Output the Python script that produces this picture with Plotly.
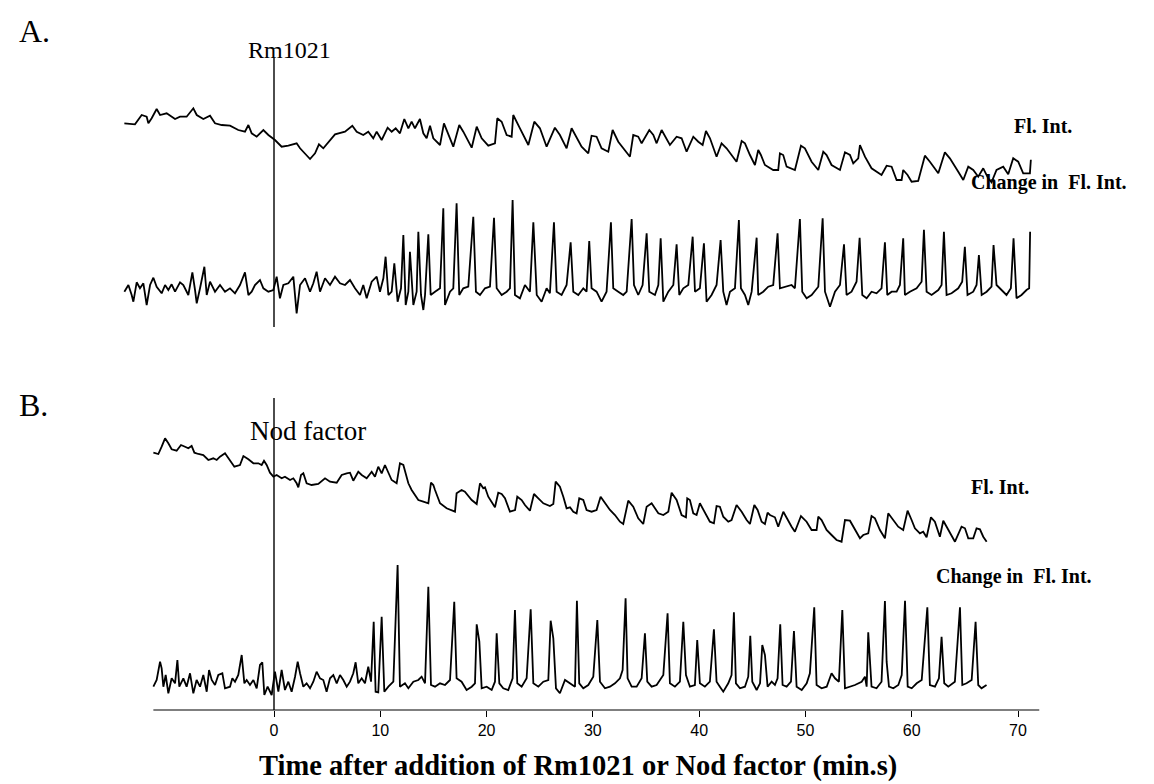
import plotly.graph_objects as go

# ---------------- data (time in min, intensity in arbitrary units) ----------------
a_fl_t = [-14.08,-13.08,-12.45,-11.98,-11.82,-11.51,-11.04,-10.72,-10.10,-9.78,-9.31,-8.84,-8.22,-7.59,-7.27,-6.65,-6.02,-5.55,-4.92,-4.14,-3.36,-2.73,-2.41,-2.10,-1.63,-1.00,-0.53,0.09,0.72,1.35,2.13,2.45,3.39,3.86,4.23,4.64,5.74,6.68,7.37,7.78,8.40,8.87,9.34,9.66,10.13,10.69,11.07,11.45,11.85,12.26,12.64,12.95,13.26,13.73,14.05,14.36,14.68,14.99,15.62,15.99,16.40,16.87,17.43,17.81,18.60,19.07,19.54,20.16,20.79,21.01,21.42,21.89,22.36,22.51,23.14,23.93,24.49,25.02,25.65,26.43,26.90,27.53,28.00,28.47,28.94,29.57,29.88,30.35,30.82,31.45,31.86,32.39,33.49,33.80,34.27,34.59,35.31,35.69,36.00,36.47,36.94,37.25,37.88,38.35,38.82,39.45,39.92,40.33,40.64,41.02,41.64,42.11,42.58,43.05,43.52,44.00,44.31,44.78,45.25,45.56,45.81,46.19,46.97,47.44,47.60,47.91,48.23,49.01,49.58,49.95,50.58,51.21,51.68,51.99,52.46,53.25,53.72,54.19,54.50,54.97,55.13,55.60,56.22,57.16,57.64,58.11,58.58,59.05,59.20,59.61,59.99,60.61,61.24,61.71,62.50,63.12,63.59,64.38,64.85,65.32,65.79,66.26,66.73,67.20,67.51,67.98,68.61,69.08,69.55,70.02,70.49,71.12,71.21]
a_fl_v = [66.7,65.7,75,73.3,66.7,71.7,81,75,76.7,74.3,71,73.3,73.3,81.7,75,71,74.3,66.7,65,64.3,60,58.3,65,56.7,53.3,60,55,50,43.3,44.3,46.7,41.7,31,36.7,45.7,41.7,55.7,58.3,64.3,58.3,55,58.3,51.7,58.3,50,62.3,58.3,61.7,56.7,71,61.7,68.3,61.7,71,56.7,51.7,64.3,51.7,45,66.7,55,43.3,65,58.3,42.3,63.3,51.7,44.3,46.7,71.7,68.3,55,53.3,75,61.7,45,68.3,61.7,43.3,62.3,55,41.7,61.7,51.7,43.3,36.7,54.3,53.3,41.7,38.3,60,48.3,33.3,55,53.3,46.7,60,55,46.7,60,51.7,45,53.3,51.7,38.3,53.3,48.3,45,59,51.7,33.3,46.7,41.7,35,28.3,49,46.7,35,25,40,35,25,20,20,36.7,35,23.3,20,44.3,41.7,28.3,20,38.3,35,25,20,37.7,35,26.7,31.7,45,33.3,21.7,15,24.3,23.3,10,10,20,15,8.3,9,34.3,28.3,16.7,37.7,31.7,18.3,10,23.3,20,13.3,21.7,11.7,7.7,20,23.3,15.7,31.7,28.3,16.7,16.7,30.3]

a_ch_t = [-14.08,-13.70,-13.39,-13.23,-12.92,-12.61,-12.29,-11.98,-11.66,-11.35,-11.04,-10.57,-10.25,-9.94,-9.63,-9.31,-8.84,-8.53,-8.06,-7.68,-7.43,-7.27,-6.96,-6.55,-6.33,-6.02,-5.55,-5.08,-4.61,-4.14,-3.67,-3.20,-2.73,-2.41,-2.10,-1.79,-1.32,-1.00,-0.53,-0.06,0.25,0.56,0.88,1.35,1.82,2.13,2.45,2.92,3.39,3.70,4.01,4.33,4.80,5.27,5.74,6.21,6.68,7.15,7.62,8.09,8.40,8.72,9.19,9.66,9.97,10.29,10.50,10.76,11.07,11.32,11.63,11.95,12.17,12.39,12.64,12.79,13.11,13.42,13.58,13.83,14.05,14.21,14.52,14.74,15.15,15.62,15.93,16.09,16.56,16.87,17.18,17.43,17.81,18.28,18.75,19.00,19.38,19.85,20.32,20.70,20.95,21.42,21.89,22.20,22.45,22.67,23.14,23.61,24.08,24.40,24.72,25.18,25.65,25.96,26.34,26.59,27.06,27.53,27.91,28.16,28.63,29.10,29.41,29.66,29.88,30.35,30.82,31.29,31.70,31.92,32.39,32.86,33.18,33.65,33.87,34.27,34.68,35.06,35.31,35.84,36.16,36.38,36.63,37.10,37.57,37.88,38.13,38.51,38.98,39.39,39.61,40.07,40.45,40.70,41.17,41.64,42.02,42.27,42.58,42.90,43.37,43.74,43.93,44.31,44.62,44.94,45.41,45.56,46.03,46.50,46.97,47.38,47.60,48.07,48.70,49.01,49.48,49.70,50.11,50.58,51.21,51.62,51.84,52.31,52.78,53.25,53.63,53.87,54.34,54.81,55.10,55.35,55.76,56.22,56.69,57.16,57.48,57.70,58.11,58.58,58.89,59.20,59.36,59.83,60.46,60.93,61.15,61.40,61.87,62.50,62.81,63.03,63.28,63.75,64.38,64.75,65.00,65.25,65.79,66.10,66.32,66.58,67.05,67.51,67.70,67.98,68.45,68.92,69.33,69.58,69.86,70.33,70.80,71.05,71.14]
a_ch_v = [8.3,15,5,-1.7,17.7,11.7,16.7,-5,15,22.3,13.3,6.7,15,10,15.7,8.3,17.7,15,5,27.7,10,-3.3,11.7,33.3,5,18.3,8.3,15,8.3,11.7,6.7,15,27.7,5,8.3,15,20,11.7,8.3,10,23.3,1.7,15,16.7,23.3,-13.3,15,21.7,8.3,16.7,28.3,8.3,21.7,15,23.3,16.7,15,20,11.7,5,15,1.7,18.3,23.3,8.3,21.7,43.3,5,8.3,36.7,-1.7,11.7,65,-5,8.3,48.3,-5,8.3,68.3,5,-10,5,65.7,5,8.3,11.7,91.7,-5,8.3,11.7,96.7,5,11.7,13.3,83.3,8.3,5,11.7,13.3,82.3,11.7,5,8.3,11.7,100,5,1.7,15,8.3,77.7,5,-1.7,11.7,6.7,77.7,8.3,5,15,57.7,8.3,5,11.7,8.3,59,11.7,8.3,-1.7,8.3,77.7,11.7,8.3,5,8.3,81,15,5,15,66.7,8.3,5,15,61.7,-1.7,8.3,15,55.7,5,11.7,15,63.3,8.3,11.7,56.7,-1.7,5,15,60,8.3,-5,8.3,11.7,80,11.7,5,-5,8.3,62.3,5,8.3,13.3,15,66.7,11.7,13.3,15,11.7,81,8.3,1.7,5,13.3,81.7,8.3,-6.7,8.3,15,55.7,5,8.3,18.3,62.3,5,1.7,8.3,6.7,11.7,57.7,5,8.3,8.3,15,61.7,5,8.3,11.7,18.3,70.3,8.3,5,10,15,68.3,5,6.7,11.7,18.3,53.3,5,8.3,15,45,5,8.3,13.3,55,15,10,5,11.7,61.7,1.7,5,10,11.7,68.3]

b_fl_t = [-11.35,-10.88,-10.57,-10.25,-9.94,-9.63,-9.16,-8.75,-8.37,-8.06,-7.75,-7.49,-7.12,-6.65,-6.18,-5.71,-5.39,-5.08,-4.61,-4.14,-3.73,-3.20,-2.88,-2.41,-1.94,-1.47,-1.16,-0.94,-0.69,-0.38,-0.06,0.25,0.72,1.03,1.51,1.82,2.13,2.29,2.54,2.76,3.07,3.54,4.17,4.80,5.27,5.90,6.37,6.84,7.15,7.46,7.93,8.25,8.72,9.19,9.50,9.81,10.13,10.44,10.76,11.07,11.54,11.85,12.17,12.64,12.95,13.58,14.05,14.52,14.77,14.99,15.15,15.62,16.24,17.03,17.18,17.65,17.96,18.60,19.07,19.38,19.69,19.85,20.16,20.79,21.10,21.42,21.73,22.20,22.68,22.89,23.30,23.61,24.08,24.46,24.87,25.34,25.96,26.28,26.50,26.90,27.22,27.53,27.85,28.16,28.47,28.72,29.10,29.41,29.88,30.35,30.73,31.14,31.61,32.08,32.55,32.86,33.33,33.80,34.27,34.74,35.06,35.53,35.84,36.16,36.63,37.10,37.41,37.88,38.35,38.76,38.88,39.13,39.45,39.76,40.07,40.54,41.01,41.39,41.64,41.95,42.27,42.74,43.05,43.52,44.00,44.47,44.78,45.19,45.50,45.88,46.19,46.44,46.66,47.13,47.44,47.92,48.23,48.70,49.01,49.58,50.11,50.58,51.05,51.21,51.52,51.99,52.46,52.93,53.40,53.72,54.19,54.66,55.13,55.44,55.91,56.22,56.54,57.01,57.48,57.79,58.26,58.73,59.20,59.61,59.99,60.30,60.77,61.08,61.40,61.81,62.18,62.65,62.97,63.28,63.75,64.07,64.69,65.01,65.32,65.79,66.10,66.42,66.73,67.05]
b_fl_v = [107.3,106,113.3,121.7,116.7,110.7,109.3,115,113.3,111.7,114,107.3,106,105,100,101.7,100,103.3,106.7,100,93.3,95,104,100.7,96.7,96.7,95,99.3,95,87.3,83.3,85,81.7,83.3,80,81.7,76.7,72.7,85,86.7,76.7,75,76,81.7,78.3,77.3,85,86.7,87.3,79.3,88.3,85,81.7,88.3,83.3,93.3,86.7,95,86.7,80,76.7,96.7,95,76.7,70,60,58.3,56.7,77.3,75,70,56.7,51.7,48.3,66.7,70,68.3,60,56,76.7,71.7,72.7,63.3,52.7,67.3,66,61.7,48.3,50,63.3,60,55,49.3,66,61.7,56.7,54,56,78.3,73.3,63.3,51.7,52.7,48.3,46.7,61.7,60,50,48.3,50,63.3,56.7,50,45,38.3,36,59.3,53.3,41.7,36,53.3,56.7,51.7,46.7,45,48.3,67.3,60,45,42.7,61.7,60,46.7,45,56.7,46.7,38.3,36.7,54,53.3,43.3,38.3,40,55,48.3,40,36,55,50,38.3,36,47.3,45,42.7,33.3,48.3,41.7,33.3,28.3,44,38.3,30,30,43.3,40,30,25,20,18.3,40,39.3,30,21.7,25,26.7,44,41.7,30,21.7,46.7,40,33.3,30,49.3,40,31.7,26.7,28.3,22.7,42.7,38.3,23.3,39.3,33.3,23.3,18.3,33.3,31.7,21.7,21.7,31.7,30.7,23.3,18.3]

b_ch_t = [-11.35,-11.04,-10.72,-10.57,-10.41,-10.19,-9.94,-9.63,-9.31,-9.09,-8.91,-8.53,-8.22,-7.90,-7.59,-7.28,-6.96,-6.65,-6.33,-6.11,-5.86,-5.55,-5.24,-4.86,-4.61,-4.14,-3.92,-3.67,-3.36,-3.04,-2.79,-2.57,-2.26,-1.94,-1.63,-1.32,-1.10,-0.91,-0.60,-0.22,0.09,0.41,0.72,1.03,1.35,1.66,1.98,2.23,2.45,2.76,3.07,3.39,3.70,4.01,4.33,4.64,4.95,5.27,5.58,5.90,6.21,6.52,6.84,7.15,7.46,7.68,7.93,8.25,8.56,8.87,9.13,9.38,9.56,9.81,10.13,10.38,10.76,11.23,11.63,11.85,12.32,12.64,13.11,13.58,13.89,14.21,14.52,14.77,15.15,15.62,16.09,16.56,16.96,17.18,17.65,18.12,18.60,18.91,19.07,19.32,19.54,20.01,20.48,20.79,20.95,21.20,21.57,22.04,22.45,22.67,22.89,23.30,23.77,24.15,24.40,24.87,25.34,25.81,26.03,26.28,26.53,26.90,27.38,27.85,28.32,28.50,28.72,29.10,29.57,30.04,30.42,30.67,31.14,31.61,32.08,32.55,32.80,33.08,33.27,33.65,34.12,34.59,34.90,35.12,35.53,36.00,36.63,37.03,37.25,37.72,38.19,38.51,38.76,39.13,39.60,39.82,40.07,40.54,41.01,41.39,41.64,41.95,42.27,42.74,43.05,43.27,43.46,43.84,44.31,44.62,44.81,45.00,45.41,45.73,45.94,46.19,46.44,46.82,47.13,47.38,47.63,47.85,48.23,48.64,48.92,49.17,49.65,50.12,50.42,50.83,51.05,51.52,52.00,52.46,52.78,53.15,53.47,53.72,54.19,54.66,55.29,55.60,55.76,55.91,56.22,56.69,57.16,57.48,57.64,57.86,58.27,58.74,59.06,59.37,59.62,60.00,60.47,60.94,61.47,61.71,62.19,62.56,62.81,63.06,63.44,64.06,64.54,64.76,65.16,65.64,66.01,66.26,66.57,67.04]
b_ch_v = [8.3,15,33.3,26.7,8.3,20,1.7,16.7,11.7,35,8.3,16.7,8.3,21.7,1.7,15,8.3,20,3.3,25,15,10,20,21.7,6.7,8.3,16.7,13.3,20,40,11.7,15,10,15,6.7,30,32.7,0,8.3,0,23.3,3.3,25,5,13.3,3.3,18.3,33.3,21.7,8.3,11.7,6.7,13.3,23.3,16.7,15,3.3,16.7,20,11.7,20,15,8.3,13.3,21.7,32.7,11.7,16.7,11.7,28.3,13.3,73.3,3.3,2.7,78.3,3.3,8.3,13.3,130,8.3,11.7,6.7,13.3,15,18.3,11.7,108.3,10,8.3,11.7,10,15,93.3,16.7,13.3,5,8.3,11.7,70.7,53.3,6.7,8.3,5,13.3,61.7,11.7,6.7,5,16.7,85,11.7,8.3,16.7,85.7,11.7,8.3,13.3,15,74.3,56.7,6.7,1.7,15,11.7,8.3,94.3,11.7,6.7,10,18.3,75,13.3,6.7,8.3,11.7,16.7,25,96.7,16.7,8.3,8.3,16.7,61.7,13.3,8.3,10,20,81.7,11.7,8.3,13.3,73.3,20,8.3,10,55,11.7,8.3,13.3,65.7,13.3,8.3,3.3,11.7,20,82.7,11.7,6.7,8.3,18.3,59.3,13.3,5,11.7,50,40,8.3,13.3,10,16.7,70.7,10,8.3,13.3,64,8.3,5,11.7,21.7,87.7,10,6.7,8.3,21.7,16.7,13.3,85,6.7,8.3,10,13.3,18.3,8.3,62.7,8.3,6.7,13.3,94,33.3,8.3,6.7,10,20,94.3,8.3,6.7,11.7,15,87.7,10,8.3,16.7,58.3,11.7,8.3,13.3,87.7,10,11.7,15,73.3,10,6.7,10]

tick_vals = [0, 10, 20, 30, 40, 50, 60, 70]
tick_text = ["0", "10", "20", "30", "40", "50", "60", "70"]

# ---------------- layout geometry (page pixels; the page body adds an 8px margin) ----------------
W, H = 1154, 784
OFF = 8                      # browser body margin
AXIS_ROW = 710               # page row of the time axis
PX0, PX70 = 274, 1018        # page columns of t=0 and t=70
ppm = (PX70 - PX0) / 70.0    # pixels per minute
PLOT_H = AXIS_ROW - OFF      # plot area height in figure pixels (top margin 0)
x_range = [-(PX0 - OFF) / ppm, (W + OFF - PX0) / ppm]

def yr(ref):
    # value = ref - page_row ; plot area spans page rows [AXIS_ROW .. OFF]
    return [ref - AXIS_ROW, ref - OFF]

def px(x):
    return (x - OFF) / W

def py(y):
    return (AXIS_ROW - y) / PLOT_H

line = dict(color="black", width=1.8)
fig = go.Figure()
fig.add_trace(go.Scatter(x=a_fl_t, y=a_fl_v, mode="lines", line=line, yaxis="y", name="A Fl. Int."))
fig.add_trace(go.Scatter(x=a_ch_t, y=a_ch_v, mode="lines", line=line, yaxis="y2", name="A Change"))
fig.add_trace(go.Scatter(x=b_fl_t, y=b_fl_v, mode="lines", line=line, yaxis="y3", name="B Fl. Int."))
fig.add_trace(go.Scatter(x=b_ch_t, y=b_ch_v, mode="lines", line=line, yaxis="y4", name="B Change"))

hidden = dict(visible=False, fixedrange=True)
fig.update_layout(
    width=W, height=H,
    margin=dict(l=0, r=0, t=0, b=H - PLOT_H),
    paper_bgcolor="white", plot_bgcolor="white",
    showlegend=False,
    xaxis=dict(range=x_range, showgrid=False, zeroline=False, showline=False,
               tickmode="array", tickvals=tick_vals, ticktext=tick_text,
               ticks="outside", ticklen=6, tickwidth=1.2, tickcolor="black",
               tickfont=dict(family="Liberation Sans, Arial", size=16, color="black")),
    yaxis=dict(range=yr(190), **hidden),
    yaxis2=dict(range=yr(300), overlaying="y", **hidden),
    yaxis3=dict(range=yr(560), overlaying="y", **hidden),
    yaxis4=dict(range=yr(695), overlaying="y", **hidden),
)

# axis baseline and the two stimulus markers
fig.add_shape(type="line", xref="x", yref="paper", x0=b_fl_t[0], x1=72.0, y0=0, y1=0,
              line=dict(color="black", width=1.2))
fig.add_shape(type="line", xref="x", yref="paper", x0=0, x1=0, y0=py(58), y1=py(327),
              line=dict(color="black", width=1.4))
fig.add_shape(type="line", xref="x", yref="paper", x0=0, x1=0, y0=py(398), y1=0,
              line=dict(color="black", width=1.4))

serif = "Liberation Serif, Times New Roman, serif"

def label(text, x, y, size, bold=False, anchor="left"):
    fig.add_annotation(text=("<b>%s</b>" % text) if bold else text,
                       xref="paper", yref="paper", x=px(x), y=py(y),
                       xanchor=anchor, yanchor="middle", showarrow=False,
                       font=dict(family=serif, size=size, color="black"))

label("A.", 17, 31, 32)
label("Rm1021", 246, 50, 24)
label("B.", 17, 405, 32)
label("Nod factor", 248, 431, 27)
label("Fl. Int.", 1012, 126, 20, bold=True)
label("Change in&nbsp; Fl. Int.", 969, 182, 20, bold=True)
label("Fl. Int.", 969, 487, 20, bold=True)
label("Change in&nbsp; Fl. Int.", 934, 576, 20, bold=True)
label("Time after addition of Rm1021 or Nod factor (min.s)", 578, 766, 28.5, bold=True, anchor="center")

fig.write_html("out.html")
